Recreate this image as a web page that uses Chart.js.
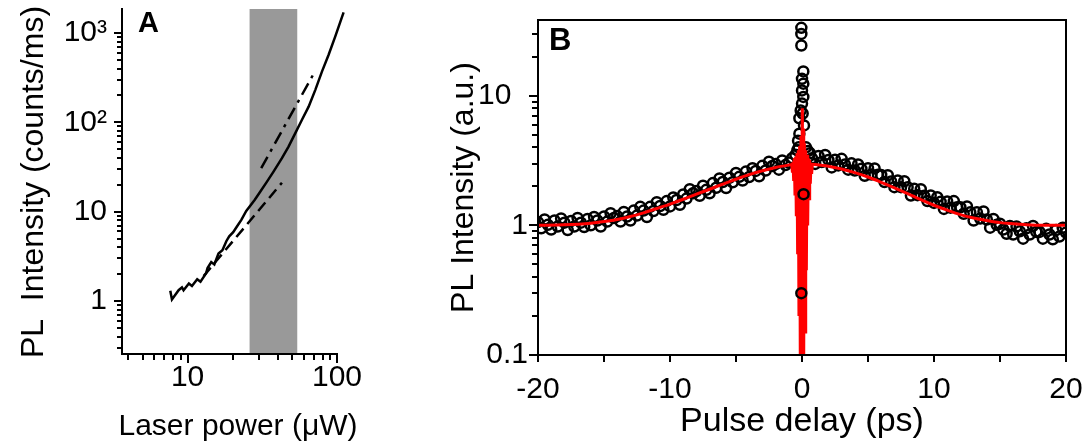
<!DOCTYPE html>
<html>
<head>
<meta charset="utf-8">
<script src="https://cdn.jsdelivr.net/npm/chart.js@4.4.1/dist/chart.umd.min.js"></script>
<style>
  html, body { margin: 0; padding: 0; background: #fff; }
  body { width: 1091px; height: 445px; position: relative; overflow: hidden; }
  .panel { position: absolute; top: 0; }
  #panel-a { left: 0; width: 370px; height: 445px; }
  #panel-b { left: 440px; width: 651px; height: 445px; }
</style>
</head>
<body>
<div class="panel" id="panel-a"><canvas id="chart-a" width="370" height="445"></canvas></div>
<div class="panel" id="panel-b"><canvas id="chart-b" width="651" height="445"></canvas></div>
<script>
// ---- Panel A: PL intensity vs laser power ----
const solidPower = [7.66, 7.86, 8.71, 9.17, 9.40, 10.2, 10.7, 11.6, 12.2, 13.3, 13.6, 14.4, 15.1, 16.1, 17.1, 18.2, 19.0, 20.2, 21.5, 22.9, 24.7, 28.1, 30.7, 34.0, 37.6, 42.8, 47.4, 52.6, 58.3, 64.6, 71.6, 79.4, 87.9, 97.4, 110.7];
const solidCounts = [1.30, 1.04, 1.32, 1.42, 1.32, 1.57, 1.47, 1.75, 1.64, 2.04, 2.34, 2.73, 2.57, 3.40, 3.71, 4.70, 5.30, 5.90, 6.90, 8.10, 10.2, 13.5, 16.8, 21.7, 28.1, 39.7, 53.6, 75.7, 107, 150, 231, 372, 571, 917, 1700];
const dashedPower = [12.8, 42.8];
const dashedCounts = [1.90, 21.1];
const dashDotPower = [31.1, 71.6];
const dashDotCounts = [30.7, 378];
const bandPower = [26.0, 54.2];

const powerMajor = [10, 100];
const powerLabels = ['10', '100'];
const powerMinor = [4, 5, 6, 7, 8, 9, 20, 30, 40, 50, 60, 70, 80, 90];
const countMajor = [1, 10, 100, 1000];
const countLabels = ['1', '10', '10²', '10³'];
const countMinor = [0.3, 0.4, 0.5, 0.6, 0.7, 0.8, 0.9, 2, 3, 4, 5, 6, 7, 8, 9, 20, 30, 40, 50, 60, 70, 80, 90, 200, 300, 400, 500, 600, 700, 800, 900];

// ---- Panel B: PL intensity vs pulse delay ----
const leftDelays = Array.from({ length: 78 }, (_, i) => -20 + i * 0.25);   // -20 ... -0.75
const rightDelays = Array.from({ length: 78 }, (_, i) => 0.75 + i * 0.25); // 0.75 ... 20
const leftPL = [
  1.06, 0.95, 1.11, 1.01,  0.93, 1.09, 0.98, 1.13,  1.05, 0.92, 1.08, 0.98,
  1.14, 1.05, 0.97, 1.12,  1.00, 1.16, 1.09, 0.98,  1.17, 1.07, 1.24, 1.14,
  1.18, 1.07, 1.27, 1.17,  1.09, 1.30, 1.19, 1.39,  1.30, 1.16, 1.39, 1.29,
  1.51, 1.41, 1.32, 1.54,  1.40, 1.64, 1.57, 1.44,  1.73, 1.61, 1.90, 1.77,
  1.84, 1.69, 2.02, 1.88,  1.77, 2.12, 1.95, 2.30,  2.16, 1.94, 2.33, 2.15,
  2.54, 2.37, 2.22, 2.60,  2.36, 2.76, 2.63, 2.39,  2.88, 2.65, 3.10, 2.87,
  2.97, 2.69, 3.17, 2.92,  3.05, 3.30
];
const rightPL = [
  3.30,
  2.98, 3.43, 3.08, 3.49,  3.20, 2.80, 3.21, 2.90,  3.26, 2.95, 2.69, 3.01,
  2.65, 2.95, 2.73, 2.41,  2.76, 2.47, 2.75, 2.46,  2.45, 2.16, 2.44, 2.18,
  1.97, 2.22, 1.97, 2.19,  1.97, 1.70, 1.92, 1.71,  1.90, 1.69, 1.54, 1.70,
  1.49, 1.65, 1.52, 1.34,  1.53, 1.37, 1.54, 1.38,  1.38, 1.23, 1.40, 1.26,
  1.09, 1.26, 1.13, 1.28,  1.11, 0.96, 1.12, 1.01,  1.03, 0.93, 0.86, 0.99,
  0.85, 0.98, 0.90, 0.79,  0.95, 0.85, 0.99, 0.89,  0.89, 0.79, 0.94, 0.85,
  0.78, 0.92, 0.82, 0.96,
  0.88
];
// points around zero delay: above the fringes, and the two inside the red fringe band
const spikeDelays = [-0.5, -0.35, -0.25, -0.3, -0.2, 0.15, -0.2, 0.05, -0.1, 0.0, 0.1, 0.0, 0.1, 0.0, 0.1, -0.05, -0.05, -0.05, 0.3, 0.45, 0.6];
const spikePL = [3.5, 3.8, 4.0, 4.5, 5.1, 5.9, 6.7, 7.3, 7.7, 8.7, 9.8, 11.0, 12.4, 13.5, 15.4, 24.4, 30.0, 33.4, 4.0, 3.75, 3.6];
const dipDelays = [0.12, -0.05];
const dipPL = [1.74, 0.30];

const fitDelays = [-20, -18, -16, -15, -14, -13, -12, -11, -10, -9, -8, -7, -6, -5, -4, -3, -2, -1, -0.5, 0, 0.5, 1, 2, 3, 4, 5, 6, 7, 8, 9, 10, 11, 12, 13, 14, 15, 16, 18, 20];
const fitPL = [1.00, 1.01, 1.04, 1.07, 1.11, 1.17, 1.25, 1.35, 1.46, 1.59, 1.74, 1.90, 2.08, 2.27, 2.46, 2.64, 2.80, 2.92, 2.97, 3.00, 2.98, 2.95, 2.86, 2.72, 2.55, 2.36, 2.15, 1.95, 1.76, 1.58, 1.43, 1.31, 1.21, 1.14, 1.09, 1.05, 1.03, 1.00, 1.00];
const fringeDelays = [-0.80, -0.75, -0.70, -0.65, -0.60, -0.55, -0.50, -0.45, -0.40, -0.35, -0.30, -0.25, -0.20, -0.15, -0.10, -0.05, 0, 0.05, 0.10, 0.15, 0.20, 0.25, 0.30, 0.35, 0.40, 0.45, 0.50, 0.55, 0.60, 0.65, 0.70, 0.75, 0.80];
const fringePL = [2.95, 2.6, 3.1, 2.2, 3.3, 1.7, 3.4, 1.2, 3.6, 0.6, 3.8, 0.2, 4.1, 0.1, 4.9, 0.1, 8.0, 0.1, 5.6, 0.1, 4.3, 0.15, 3.8, 0.45, 3.5, 1.0, 3.3, 1.6, 3.2, 2.1, 3.0, 2.5, 2.95];

const delayMajor = [-20, -10, 0, 10, 20];
const delayLabels = ['-20', '-10', '0', '10', '20'];
const delayMinor = [-15, -5, 5, 15];
const pulseMajor = [0.1, 1, 10];
const pulseLabels = ['0.1', '1', '10  '];
const pulseMinor = [0.2, 0.3, 0.4, 0.5, 0.6, 0.7, 0.8, 0.9, 2, 3, 4, 5, 6, 7, 8, 9, 20, 30];

const FONT = '"Liberation Sans", Arial, sans-serif';
Chart.defaults.font.family = FONT;
Chart.defaults.color = '#000';

const pts = (xs, ys) => xs.map((x, i) => ({ x, y: ys[i] }));

function fixedTicks(major, minor) {
  return scale => {
    scale.ticks = major.concat(minor).sort((a, b) => a - b)
      .map(v => ({ value: v, major: major.includes(v) }));
  };
}
function tickText(major, labels) {
  return value => {
    const i = major.indexOf(value);
    return i < 0 ? '' : labels[i];
  };
}
// fix the axis box size and drop the label overhang padding
function boxSize(size) {
  return s => {
    if (s.isHorizontal()) s.height = size; else s.width = size;
    s.paddingTop = s.paddingBottom = s.paddingLeft = s.paddingRight = 0;
  };
}

// outward tick marks, long for labelled ticks
const tickMarks = {
  id: 'tickMarks',
  afterDraw(chart, args, opts) {
    const ctx = chart.ctx;
    ctx.save();
    ctx.strokeStyle = '#000';
    ctx.lineWidth = 2;
    Object.keys(opts).forEach(id => {
      const scale = chart.scales[id];
      if (!scale) return;
      scale.ticks.forEach(t => {
        const len = t.major ? opts[id].major : opts[id].minor;
        const p = Math.round(scale.getPixelForValue(t.value));
        ctx.beginPath();
        if (scale.isHorizontal()) {
          ctx.moveTo(p, scale.top);
          ctx.lineTo(p, scale.top + len);
        } else {
          ctx.moveTo(scale.right - len, p);
          ctx.lineTo(scale.right, p);
        }
        ctx.stroke();
      });
    });
    ctx.restore();
  }
};

const shadeBand = {
  id: 'shadeBand',
  beforeDatasetsDraw(chart, args, opts) {
    if (!opts.range) return;
    const { ctx, chartArea, scales } = chart;
    const x0 = scales.x.getPixelForValue(opts.range[0]);
    const x1 = scales.x.getPixelForValue(opts.range[1]);
    ctx.save();
    ctx.fillStyle = opts.color;
    ctx.fillRect(x0, chartArea.top, x1 - x0, chartArea.bottom - chartArea.top - 1);
    ctx.restore();
  }
};

const frameBox = {
  id: 'frameBox',
  afterDatasetsDraw(chart, args, opts) {
    if (!opts.on) return;
    const { ctx, chartArea } = chart;
    ctx.save();
    ctx.strokeStyle = '#000';
    ctx.lineWidth = 2;
    ctx.strokeRect(chartArea.left, chartArea.top, chartArea.right - chartArea.left, chartArea.bottom - chartArea.top);
    ctx.restore();
  }
};

// free text: panel letters and the titles of panel A
const freeText = {
  id: 'freeText',
  afterDraw(chart, args, opts) {
    const ctx = chart.ctx;
    (opts.items || []).forEach(t => {
      ctx.save();
      ctx.font = (t.bold ? 'bold ' : '') + t.size + 'px ' + FONT;
      ctx.fillStyle = '#000';
      ctx.textAlign = t.align || 'center';
      ctx.textBaseline = t.baseline || 'middle';
      ctx.translate(t.x, t.y);
      if (t.rotate) ctx.rotate(t.rotate);
      ctx.fillText(t.text, 0, 0);
      ctx.restore();
    });
  }
};

function logAxis(min, max, major, labels, minor, extra) {
  return Object.assign({
    type: 'logarithmic',
    min, max,
    afterBuildTicks: fixedTicks(major, minor),
    grid: { display: false, drawTicks: false },
    border: { display: true, color: '#000', width: 2 },
  }, extra);
}

new Chart(document.getElementById('chart-a'), {
  type: 'scatter',
  data: {
    datasets: [
      { data: pts(solidPower, solidCounts), showLine: true, borderColor: '#000', borderWidth: 2.5, pointRadius: 0, tension: 0, clip: false },
      { data: pts(dashedPower, dashedCounts), showLine: true, borderColor: '#000', borderWidth: 2.5, borderDash: [11, 6], pointRadius: 0 },
      { data: pts(dashDotPower, dashDotCounts), showLine: true, borderColor: '#000', borderWidth: 2.5, borderDash: [13, 6, 3, 6], pointRadius: 0 }
    ]
  },
  options: {
    responsive: false,
    animation: false,
    events: [],
    layout: { padding: { top: 9, right: 33, bottom: 0, left: 0 } },
    scales: {
      x: logAxis(3.64, 100, powerMajor, powerLabels, powerMinor, {
        position: 'bottom',
        afterFit: boxSize(91),
        ticks: { autoSkip: false, maxRotation: 0, padding: 9, font: { size: 30, lineHeight: 1 }, callback: tickText(powerMajor, powerLabels) }
      }),
      y: logAxis(0.255, 1858, countMajor, countLabels, countMinor, {
        position: 'left',
        afterFit: boxSize(122),
        ticks: { autoSkip: false, padding: 15, font: { size: 30, lineHeight: 1 }, callback: tickText(countMajor, countLabels) }
      })
    },
    plugins: {
      legend: { display: false },
      tooltip: { enabled: false },
      tickMarks: { x: { major: 9, minor: 6 }, y: { major: 8, minor: 5 } },
      shadeBand: { range: bandPower, color: '#999999' },
      frameBox: { on: false },
      freeText: { items: [
        { text: 'A', x: 138, y: 32, size: 29, bold: true, align: 'left', baseline: 'alphabetic' },
        { text: 'Laser power (\u03bcW)', x: 238, y: 427, size: 30 },
        { text: 'PL  Intensity (counts/ms)', x: 34, y: 182, size: 32, rotate: -Math.PI / 2 }
      ] }
    }
  },
  plugins: [tickMarks, shadeBand, frameBox, freeText]
});

new Chart(document.getElementById('chart-b'), {
  type: 'scatter',
  data: {
    datasets: [
      { data: pts(fitDelays, fitPL), showLine: true, borderColor: '#ff0000', borderWidth: 3, pointRadius: 0, cubicInterpolationMode: 'monotone', order: 0 },
      { data: pts(dipDelays, dipPL), pointRadius: 5, pointBorderWidth: 2.5, borderColor: '#000', backgroundColor: 'rgba(0,0,0,0)', order: 1 },
      { data: pts(fringeDelays, fringePL), showLine: true, borderColor: '#ff0000', borderWidth: 2.5, pointRadius: 0, tension: 0, order: 2 },
      { data: pts(leftDelays, leftPL).concat(pts(rightDelays, rightPL), pts(spikeDelays, spikePL)), pointRadius: 5, pointBorderWidth: 2.5, borderColor: '#000', backgroundColor: 'rgba(0,0,0,0)', order: 3 }
    ]
  },
  options: {
    responsive: false,
    animation: false,
    events: [],
    layout: { padding: { top: 20, right: 25, bottom: 0, left: 0 } },
    scales: {
      x: {
        type: 'linear',
        position: 'bottom',
        min: -20, max: 20,
        afterBuildTicks: fixedTicks(delayMajor, delayMinor),
        afterFit: boxSize(90),
        grid: { display: false, drawTicks: false },
        border: { display: true, color: '#000', width: 2 },
        ticks: { autoSkip: false, maxRotation: 0, padding: 20, font: { size: 30, lineHeight: 1 }, callback: tickText(delayMajor, delayLabels) },
        title: { display: true, text: 'Pulse delay (ps)', font: { size: 34, lineHeight: 1 }, padding: { top: 0, bottom: 6 } }
      },
      y: logAxis(0.1, 38.4, pulseMajor, pulseLabels, pulseMinor, {
        position: 'left',
        afterFit: boxSize(98),
        ticks: { autoSkip: false, padding: 10, font: { size: 30, lineHeight: 1 }, callback: tickText(pulseMajor, pulseLabels) },
        title: { display: true, text: 'PL Intensity (a.u.)', font: { size: 32, lineHeight: 1 }, padding: { top: 8, bottom: 0 } }
      })
    },
    plugins: {
      legend: { display: false },
      tooltip: { enabled: false },
      tickMarks: { x: { major: 7, minor: 7 }, y: { major: 9, minor: 6 } },
      shadeBand: {},
      frameBox: { on: true },
      freeText: { items: [
        { text: 'B', x: 109, y: 50, size: 31, bold: true, align: 'left', baseline: 'alphabetic' }
      ] }
    }
  },
  plugins: [tickMarks, shadeBand, frameBox, freeText]
});
</script>
</body>
</html>
